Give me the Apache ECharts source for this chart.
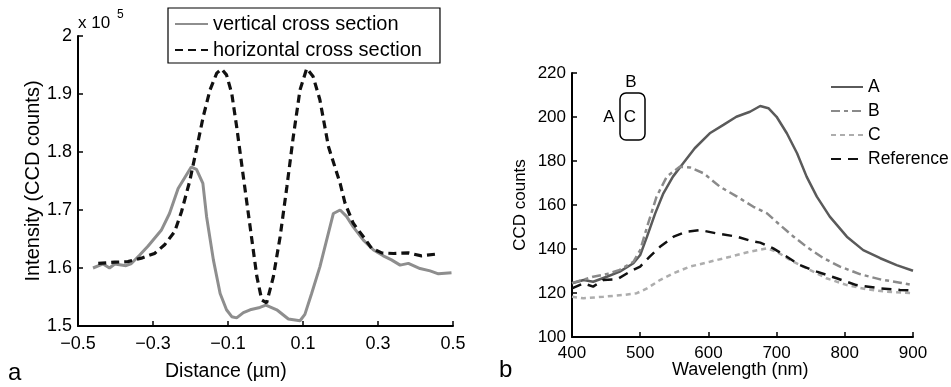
<!DOCTYPE html>
<html>
<head>
<meta charset="utf-8">
<script src="https://cdn.jsdelivr.net/npm/echarts@6/dist/echarts.min.js"></script>
<style>
html,body{margin:0;padding:0;background:#fff;}
#chart{width:951px;height:387px;}
</style>
</head>
<body>
<div id="chart"></div>
<script>
// ---- Panel a: cross sections (intensity in units of 10^5 CCD counts) ----
const vertX = [-0.46,-0.433,-0.416,-0.402,-0.372,-0.359,-0.336,-0.313,-0.278,-0.256,-0.233,-0.198,-0.184,-0.167,-0.157,-0.139,-0.121,-0.104,-0.090,-0.077,-0.059,-0.041,-0.015,0.001,0.030,0.061,0.092,0.105,0.123,0.145,0.163,0.181,0.199,0.216,0.234,0.261,0.288,0.314,0.336,0.359,0.381,0.412,0.439,0.461,0.496];
const vertY = [1.600,1.607,1.600,1.607,1.604,1.607,1.622,1.638,1.665,1.694,1.737,1.774,1.770,1.746,1.688,1.614,1.556,1.528,1.516,1.514,1.523,1.528,1.532,1.536,1.528,1.512,1.509,1.520,1.556,1.602,1.648,1.694,1.700,1.689,1.671,1.648,1.631,1.621,1.614,1.605,1.608,1.599,1.595,1.590,1.592];
const horizX = [-0.446,-0.402,-0.367,-0.331,-0.296,-0.269,-0.242,-0.224,-0.202,-0.184,-0.166,-0.148,-0.130,-0.117,-0.104,-0.090,-0.077,-0.059,-0.041,-0.023,-0.010,0.003,0.021,0.039,0.057,0.074,0.092,0.110,0.127,0.145,0.168,0.199,0.212,0.234,0.261,0.283,0.310,0.341,0.381,0.416,0.456];
const horizY = [1.608,1.610,1.611,1.617,1.625,1.640,1.663,1.697,1.750,1.805,1.861,1.907,1.936,1.943,1.933,1.901,1.844,1.757,1.671,1.585,1.545,1.540,1.585,1.654,1.740,1.826,1.907,1.944,1.930,1.890,1.809,1.746,1.712,1.677,1.654,1.634,1.626,1.625,1.626,1.621,1.624];
const seriesNamesA = ['vertical cross section','horizontal cross section'];

// ---- Panel b: spectra (CCD counts vs wavelength) ----
const aX = [400,417,431,451,470,490,500,510,522,534,548,563,580,602,622,641,661,676,688,700,715,730,744,759,778,803,827,852,876,900];
const aY = [124.4,125.9,125.1,127.4,129.7,133.5,137.3,145.6,156.2,165.3,172.9,179.0,185.8,192.6,196.4,200.1,202.4,205.0,204.0,200.1,192.6,183.5,172.9,163.8,154.7,145.6,139.5,135.8,132.7,130.1];
const bX = [400,431,451,470,490,500,510,524,539,558,573,593,617,642,666,686,705,725,744,769,793,822,852,881,900];
const bY = [124.5,127.4,128.6,130.5,134.2,139.5,150.0,163.8,172.9,177.4,177.1,174.4,168.3,163.8,159.2,156.2,150.9,145.6,141.0,135.8,132.0,128.6,126.2,124.7,123.6];
const cX = [400,417,446,475,495,510,529,549,573,602,632,661,686,700,720,744,773,803,832,861,900];
const cY = [118.3,117.6,118.3,119.1,119.9,122.1,125.9,129.0,132.0,134.2,136.5,138.8,140.3,138.8,135.0,131.2,126.7,123.6,121.7,120.6,119.9];
const refX = [400,417,431,446,466,485,500,514,529,549,568,588,612,642,661,676,695,715,734,759,788,817,852,881,900];
const refY = [122.1,124.4,122.9,125.9,126.2,129.7,132.0,136.5,141.0,145.6,147.9,148.6,147.1,145.6,143.8,142.9,140.3,136.5,132.7,129.7,126.7,123.6,122.1,121.4,121.1];
const seriesNamesB = ['A','B','C','Reference'];

const pairs = (xs, ys) => xs.map((x, i) => [x, ys[i]]);
const FONT = 'Liberation Sans';
const minus = s => s.replace('-', '\u2212');

const axisCommon = {
  splitLine: {show: false},
  axisLine: {show: true, onZero: false, lineStyle: {color: '#000', width: 2}},
  axisTick: {show: true, inside: true, length: 5, lineStyle: {color: '#000', width: 1.5}},
};
const hiddenSymbol = {color: 'rgba(0,0,0,0)', borderWidth: 0, opacity: 0};

const chart = echarts.init(document.getElementById('chart'), null, {renderer: 'canvas'});
chart.setOption({
  animation: false,
  backgroundColor: '#fff',
  textStyle: {fontFamily: FONT},
  grid: [
    {left: 78, top: 36, width: 375, height: 290, containLabel: false},
    {left: 572, top: 73, width: 341, height: 264, containLabel: false}
  ],
  xAxis: [
    Object.assign({}, axisCommon, {
      type: 'value', gridIndex: 0, min: -0.5, max: 0.5, interval: 0.2,
      axisLabel: {fontSize: 18, color: '#000', margin: 9, fontFamily: FONT,
        formatter: v => minus((Math.round(v * 10) / 10).toFixed(1))}
    }),
    Object.assign({}, axisCommon, {
      type: 'value', gridIndex: 1, min: 400, max: 900, interval: 100,
      axisLabel: {fontSize: 17, color: '#000', margin: 8, fontFamily: FONT}
    })
  ],
  yAxis: [
    Object.assign({}, axisCommon, {
      type: 'value', gridIndex: 0, min: 1.5, max: 2, interval: 0.1,
      name: 'Intensity (CCD counts)', nameLocation: 'middle', nameGap: 35,
      nameTextStyle: {fontSize: 20, color: '#000', fontFamily: FONT},
      axisLabel: {fontSize: 18, color: '#000', margin: 6, fontFamily: FONT,
        formatter: v => String(Math.round(v * 10) / 10)}
    }),
    Object.assign({}, axisCommon, {
      type: 'value', gridIndex: 1, min: 100, max: 220, interval: 20,
      name: 'CCD counts', nameLocation: 'middle', nameGap: 43,
      nameTextStyle: {fontSize: 17, color: '#000', fontFamily: FONT},
      axisLabel: {fontSize: 17, color: '#000', margin: 6, fontFamily: FONT}
    })
  ],
  legend: [
    {
      data: seriesNamesA, orient: 'vertical', left: 168, top: 8,
      padding: [6, 18, 3, 6], itemWidth: 33, itemHeight: 14, itemGap: 6,
      borderColor: '#000', borderWidth: 1.2, backgroundColor: '#fff',
      itemStyle: hiddenSymbol,
      textStyle: {fontSize: 20, color: '#000', fontFamily: FONT}
    },
    {
      data: seriesNamesB, orient: 'vertical', left: 830, top: 78,
      padding: 0, itemWidth: 32, itemHeight: 14, itemGap: 6,
      itemStyle: hiddenSymbol,
      textStyle: {fontSize: 17.5, color: '#000', fontFamily: FONT}
    }
  ],
  graphic: [
    {type: 'text', left: 78, top: 15, style: {text: 'x 10', fontSize: 17, fill: '#000', fontFamily: FONT}},
    {type: 'text', left: 117, top: 9, style: {text: '5', fontSize: 12, fill: '#000', fontFamily: FONT}},
    {type: 'text', left: 165, top: 362, style: {text: 'Distance (\u00b5m)', fontSize: 19.5, fill: '#000', fontFamily: FONT}},
    {type: 'text', left: 672, top: 361, style: {text: 'Wavelength (nm)', fontSize: 18, fill: '#000', fontFamily: FONT}},
    {type: 'text', left: 8, top: 361, style: {text: 'a', fontSize: 24, fill: '#000', fontFamily: FONT}},
    {type: 'text', left: 499, top: 358, style: {text: 'b', fontSize: 24, fill: '#000', fontFamily: FONT}},
    {type: 'rect', shape: {x: 620, y: 93, width: 25, height: 47, r: 6}, style: {fill: 'none', stroke: '#000', lineWidth: 1.5}},
    {type: 'text', x: 631, y: 82, style: {text: 'B', fontSize: 17, fill: '#000', fontFamily: FONT, align: 'center', verticalAlign: 'middle'}},
    {type: 'text', x: 609, y: 117, style: {text: 'A', fontSize: 17, fill: '#000', fontFamily: FONT, align: 'center', verticalAlign: 'middle'}},
    {type: 'text', x: 630, y: 117, style: {text: 'C', fontSize: 17, fill: '#000', fontFamily: FONT, align: 'center', verticalAlign: 'middle'}}
  ],
  series: [
    {name: seriesNamesA[0], type: 'line', xAxisIndex: 0, yAxisIndex: 0, data: pairs(vertX, vertY),
      showSymbol: false, symbol: 'none', color: '#8e8e8e', lineStyle: {color: '#8e8e8e', width: 3}},
    {name: seriesNamesA[1], type: 'line', xAxisIndex: 0, yAxisIndex: 0, data: pairs(horizX, horizY),
      showSymbol: false, symbol: 'none', color: '#111', lineStyle: {color: '#111', width: 3.2, type: [8, 5]}},
    {name: seriesNamesB[0], type: 'line', xAxisIndex: 1, yAxisIndex: 1, data: pairs(aX, aY),
      showSymbol: false, symbol: 'none', color: '#5a5a5a', lineStyle: {color: '#5a5a5a', width: 2.5}},
    {name: seriesNamesB[1], type: 'line', xAxisIndex: 1, yAxisIndex: 1, data: pairs(bX, bY),
      showSymbol: false, symbol: 'none', color: '#8a8a8a', lineStyle: {color: '#8a8a8a', width: 2.5, type: [9, 4, 4, 4]}},
    {name: seriesNamesB[2], type: 'line', xAxisIndex: 1, yAxisIndex: 1, data: pairs(cX, cY),
      showSymbol: false, symbol: 'none', color: '#adadad', lineStyle: {color: '#adadad', width: 2.5, type: [5, 4]}},
    {name: seriesNamesB[3], type: 'line', xAxisIndex: 1, yAxisIndex: 1, data: pairs(refX, refY),
      showSymbol: false, symbol: 'none', color: '#111', lineStyle: {color: '#111', width: 2.5, type: [10, 7]}}
  ]
});
</script>
</body>
</html>
